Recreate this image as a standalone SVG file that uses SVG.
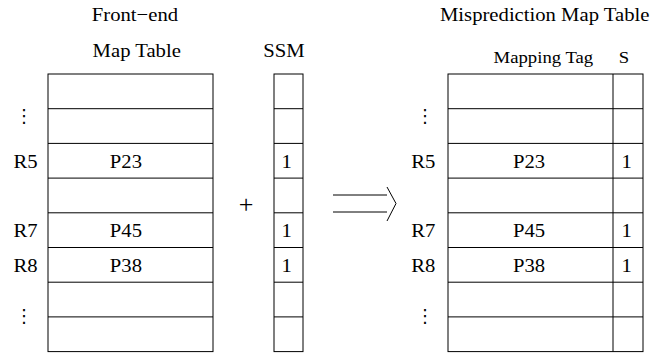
<svg xmlns="http://www.w3.org/2000/svg" width="652" height="356" viewBox="0 0 652 356">
  <style>
    /* labels use a slightly widened serif face; x values are divided by 1.1 */
    .t { font-family: 'Liberation Serif', 'DejaVu Serif', serif; font-size: 18.8px; fill: #000; transform: scale(1.1, 1); }
    .s { font-size: 17px; }
    .c { text-anchor: middle; }
    .plus { font-family: 'Liberation Serif', 'DejaVu Serif', serif; font-size: 26px; text-anchor: middle; }
    .box { fill: #fff; stroke: #000; stroke-width: 1; }
    .ln { stroke: #000; stroke-width: 1; fill: none; }
    .dots { font-family: 'DejaVu Sans', sans-serif; font-size: 18px; text-anchor: middle; }
  </style>

  <!-- front-end map table -->
  <g id="frontend-map-table">
    <text class="t c" x="122.7" y="21">Front−end</text>
    <text class="t c" x="124.3" y="57">Map Table</text>
    <rect class="box" x="48" y="74" width="165" height="277.6"/>
    <path class="ln" d="M48 108.7H213M48 143.4H213M48 178.1H213M48 212.8H213M48 247.5H213M48 282.2H213M48 316.9H213"/>
    <text class="t c" x="114.5" y="168">P23</text>
    <text class="t c" x="114.5" y="237.5">P45</text>
    <text class="t c" x="114.5" y="272">P38</text>
  </g>

  <!-- row labels, left -->
  <g id="left-labels">
    <text class="dots" x="24" y="122">⋮</text>
    <text class="t c" x="23.2" y="168">R5</text>
    <text class="t c" x="23.2" y="237.5">R7</text>
    <text class="t c" x="23.2" y="272">R8</text>
    <text class="dots" x="24" y="322">⋮</text>
  </g>

  <!-- SSM column -->
  <g id="ssm">
    <text class="t c" x="258.2" y="57">SSM</text>
    <rect class="box" x="274" y="74" width="29" height="277.6"/>
    <path class="ln" d="M274 108.7H303M274 143.4H303M274 178.1H303M274 212.8H303M274 247.5H303M274 282.2H303M274 316.9H303"/>
    <text class="t c" x="260.6" y="168">1</text>
    <text class="t c" x="260.6" y="237.5">1</text>
    <text class="t c" x="260.6" y="272">1</text>
  </g>

  <g id="plus">
    <text class="plus" x="246" y="213">+</text>
  </g>

  <!-- connectors -->
  <g id="connectors">
    <path class="ln" d="M333 195H387M333 212H387M387 187L396 203.5L387 221"/>
  </g>

  <!-- misprediction map table -->
  <g id="mispred-map-table">
    <text class="t" x="400" y="21">Misprediction Map Table</text>
    <text class="t s c" x="494" y="63">Mapping Tag</text>
    <text class="t s c" x="567.3" y="63">S</text>
    <rect class="box" x="448" y="74" width="195" height="277.6"/>
    <path class="ln" d="M448 108.7H643M448 143.4H643M448 178.1H643M448 212.8H643M448 247.5H643M448 282.2H643M448 316.9H643"/>
    <path class="ln" d="M613 74V351.6" stroke-width="1.3"/>
    <text class="t c" x="481" y="168">P23</text>
    <text class="t c" x="481" y="237.5">P45</text>
    <text class="t c" x="481" y="272">P38</text>
    <text class="t c" x="569.7" y="168">1</text>
    <text class="t c" x="569.7" y="237.5">1</text>
    <text class="t c" x="569.7" y="272">1</text>
  </g>

  <!-- row labels, right -->
  <g id="right-labels">
    <text class="dots" x="425" y="122">⋮</text>
    <text class="t c" x="384.8" y="168">R5</text>
    <text class="t c" x="384.8" y="237.5">R7</text>
    <text class="t c" x="384.8" y="272">R8</text>
    <text class="dots" x="425" y="322">⋮</text>
  </g>
</svg>
